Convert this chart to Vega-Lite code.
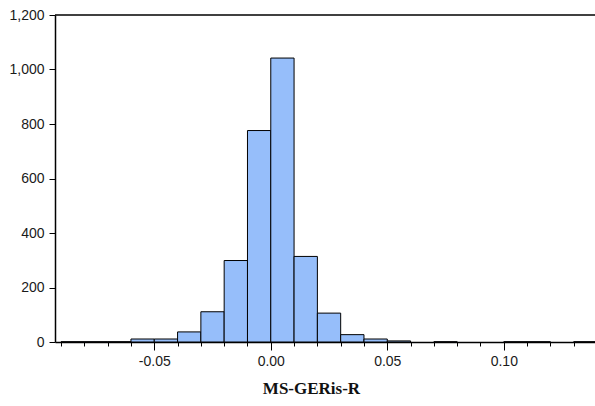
{
  "$schema": "https://vega.github.io/schema/vega-lite/v6.json",
  "width": 542,
  "height": 327,
  "autosize": "none",
  "padding": {"left": 55, "top": 15, "right": 0, "bottom": 64},
  "background": "white",
  "config": {
    "view": {"stroke": null},
    "axis": {
      "domainColor": "#000000",
      "tickColor": "#000000",
      "labelColor": "#1a1a1a",
      "labelFont": "Liberation Sans",
      "labelFontSize": 14,
      "grid": false
    }
  },
  "data": {
    "values": [
      {"start": -0.09, "end": -0.08, "count": 1},
      {"start": -0.08, "end": -0.07, "count": 1},
      {"start": -0.07, "end": -0.06, "count": 1},
      {"start": -0.06, "end": -0.05, "count": 11},
      {"start": -0.05, "end": -0.04, "count": 11},
      {"start": -0.04, "end": -0.03, "count": 37},
      {"start": -0.03, "end": -0.02, "count": 111},
      {"start": -0.02, "end": -0.01, "count": 299},
      {"start": -0.01, "end": 0.0, "count": 776},
      {"start": 0.0, "end": 0.01, "count": 1042},
      {"start": 0.01, "end": 0.02, "count": 314},
      {"start": 0.02, "end": 0.03, "count": 106},
      {"start": 0.03, "end": 0.04, "count": 27},
      {"start": 0.04, "end": 0.05, "count": 11},
      {"start": 0.05, "end": 0.06, "count": 4},
      {"start": 0.07, "end": 0.08, "count": 1},
      {"start": 0.10, "end": 0.11, "count": 1},
      {"start": 0.11, "end": 0.12, "count": 1},
      {"start": 0.13, "end": 0.14, "count": 1}
    ]
  },
  "layer": [
    {
      "mark": {"type": "bar", "fill": "#96BEFA", "stroke": "#000000", "strokeWidth": 1, "opacity": 1},
      "encoding": {
        "x": {
          "field": "start",
          "type": "quantitative",
          "scale": {"domain": [-0.0926, 0.14], "nice": false, "zero": false},
          "axis": {
            "orient": "bottom",
            "values": [-0.05, 0, 0.05, 0.1],
            "labelExpr": "(datum.value < 0 ? '-' : '') + format(abs(datum.value), '.2f')",
            "tickSize": 8,
            "labelPadding": 4,
            "domainWidth": 1.5,
            "title": "MS-GERis-R",
            "titleFont": "Liberation Serif",
            "titleFontWeight": "bold",
            "titleFontSize": 17,
            "titleColor": "#111111",
            "titleX": 256,
            "titlePadding": 12
          }
        },
        "x2": {"field": "end"},
        "y": {
          "field": "count",
          "type": "quantitative",
          "scale": {"domain": [0, 1200], "nice": false},
          "axis": {
            "values": [0, 200, 400, 600, 800, 1000, 1200],
            "format": ",.0f",
            "tickSize": 6,
            "labelPadding": 5,
            "domainWidth": 1.5,
            "title": null
          }
        },
        "y2": {"datum": 0}
      }
    },
    {
      "mark": {"type": "point", "opacity": 0},
      "encoding": {
        "x": {
          "field": "start",
          "type": "quantitative",
          "axis": {
            "orient": "bottom",
            "values": [-0.09, -0.08, -0.07, -0.06, -0.05, -0.04, -0.03, -0.02, -0.01, 0, 0.01, 0.02, 0.03, 0.04, 0.05, 0.06, 0.07, 0.08, 0.09, 0.1, 0.11, 0.12, 0.13, 0.14],
            "labels": false,
            "domain": false,
            "tickSize": 4,
            "title": null
          }
        },
        "y": {
          "field": "count",
          "type": "quantitative",
          "axis": {
            "values": [0, 200, 400, 600, 800, 1000, 1200],
            "format": ",.0f",
            "tickSize": 6,
            "labelPadding": 5,
            "domainWidth": 1.5,
            "title": null
          }
        }
      }
    },
    {
      "data": {"values": [{"count": 1200}]},
      "mark": {"type": "rule", "color": "#000000", "strokeWidth": 1.5},
      "encoding": {
        "y": {
          "field": "count",
          "type": "quantitative",
          "axis": {
            "values": [0, 200, 400, 600, 800, 1000, 1200],
            "format": ",.0f",
            "tickSize": 6,
            "labelPadding": 5,
            "domainWidth": 1.5,
            "title": null
          }
        }
      }
    }
  ],
  "resolve": {"axis": {"x": "independent"}}
}
